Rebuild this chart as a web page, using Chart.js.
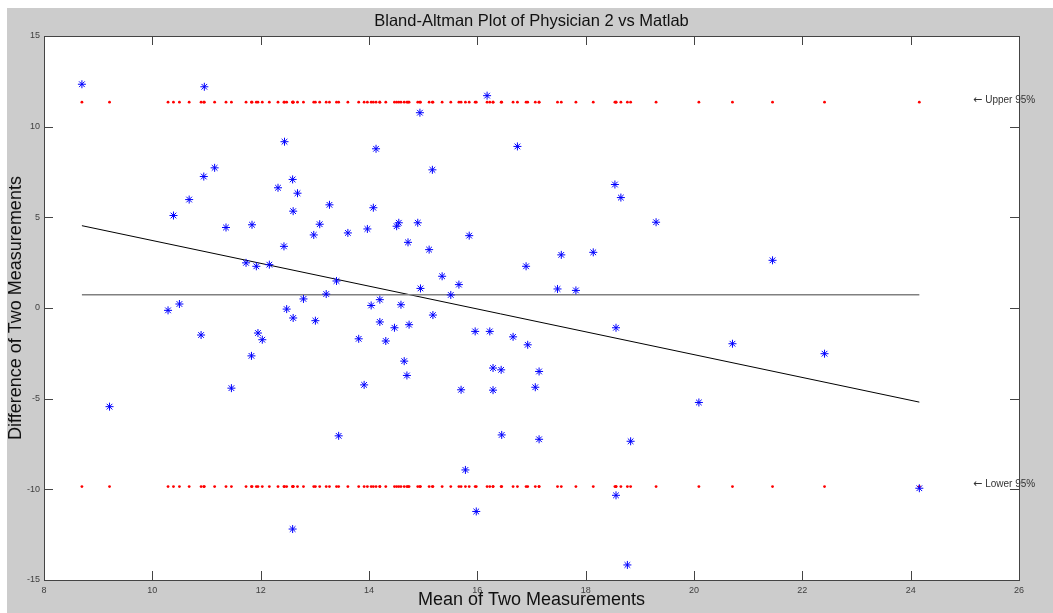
<!DOCTYPE html>
<html lang="en">
<head>
    <meta charset="UTF-8">
    <title>Bland-Altman Plot</title>
    <script src="https://cdn.jsdelivr.net/npm/chart.js"></script>
    <style>
        body { margin: 0; background: #fff; }
        canvas { display: block; }
    </style>
</head>
<body>
    <canvas id="baChart" width="1053" height="613"></canvas>

    <script>
        // Mean of the two measurements (x) and their difference (y)
        const meanVals = [
            8.70, 10.96, 12.44, 11.15, 10.95, 12.59, 12.32, 12.68, 10.68, 13.27,
            12.60, 16.18, 14.94, 14.13, 16.74, 15.17, 18.54, 18.65, 14.08, 10.39,
            11.36, 11.84, 12.43, 12.98, 13.09, 13.61, 11.73, 11.92, 12.16, 13.40,
            13.21, 10.29, 10.50, 12.48, 12.79, 12.60, 13.01, 10.90, 11.95, 12.03,
            13.81, 11.83, 11.46, 9.21, 13.97, 14.51, 14.55, 14.90, 14.72, 15.11,
            15.85, 15.35, 15.66, 14.95, 15.51, 14.20, 14.04, 14.59, 15.18, 16.90,
            17.55, 18.14, 19.30, 17.48, 17.82, 14.20, 14.47, 14.74, 14.31, 15.96,
            16.23, 16.66, 16.93, 18.56, 14.65, 14.70, 16.29, 16.44, 17.14, 13.91,
            15.70, 16.29, 17.07, 20.09, 21.45, 20.71, 22.41, 13.44, 12.59, 16.45,
            17.14, 18.83, 15.78, 15.98, 18.56, 18.77, 24.16
        ];
        const diffVals = [
            12.34, 12.20, 9.17, 7.73, 7.25, 7.09, 6.63, 6.33, 5.98, 5.69,
            5.34, 11.71, 10.77, 8.78, 8.91, 7.62, 6.81, 6.09, 5.53, 5.10,
            4.44, 4.59, 3.40, 4.03, 4.62, 4.14, 2.49, 2.30, 2.39, 1.49,
            0.77, -0.13, 0.22, -0.06, 0.50, -0.55, -0.70, -1.49, -1.38, -1.75,
            -1.70, -2.64, -4.42, -5.44, 4.36, 4.51, 4.70, 4.70, 3.62, 3.22,
            3.99, 1.75, 1.29, 1.08, 0.72, 0.46, 0.14, 0.18, -0.39, 2.30,
            2.93, 3.07, 4.73, 1.05, 0.97, -0.77, -1.09, -0.92, -1.82, -1.29,
            -1.29, -1.59, -2.03, -1.09, -2.93, -3.72, -3.31, -3.41, -3.50, -4.24,
            -4.51, -4.53, -4.37, -5.21, 2.63, -1.97, -2.52, -7.05, -12.19, -7.00,
            -7.24, -7.35, -8.93, -11.22, -10.33, -14.17, -9.94
        ];

        const meanDiff = 0.73;
        const upperLimit = 11.35;
        const lowerLimit = -9.85;

        // end points of the fitted trend line
        const fitX = [8.70, 24.16];
        const fitY = [4.54, -5.19];

        const xTicks = [8, 10, 12, 14, 16, 18, 20, 22, 24, 26];
        const yTicks = [-15, -10, -5, 0, 5, 10, 15];

        const titleText = 'Bland-Altman Plot of Physician 2 vs Matlab';
        const xLabel = 'Mean of Two Measurements';
        const yLabel = 'Difference of Two Measurements';
        const upperText = 'Upper 95%';
        const lowerText = 'Lower 95%';

        const FONT = '"Liberation Sans", Arial, sans-serif';
        const xMin = Math.min(...meanVals);
        const xMax = Math.max(...meanVals);

        const points = meanVals.map((m, i) => ({ x: m, y: diffVals[i] }));
        const upperDots = meanVals.map(m => ({ x: m, y: upperLimit }));
        const lowerDots = meanVals.map(m => ({ x: m, y: lowerLimit }));

        // arrow + label pointing back at a limit line
        function limitNote(ctx, x, y, text) {
            ctx.font = '11px "DejaVu Sans", sans-serif';
            ctx.fillText('\u2190', x, y);
            const w = ctx.measureText('\u2190').width;
            ctx.font = '10px ' + FONT;
            ctx.fillText(text, x + w + 3, y);
        }

        // gray figure frame + white axes, then box, inward ticks and texts
        const matlabFrame = {
            id: 'matlabFrame',
            beforeDraw(chart) {
                const { ctx, chartArea: a } = chart;
                ctx.save();
                ctx.fillStyle = '#ffffff';
                ctx.fillRect(0, 0, chart.width, chart.height);
                ctx.fillStyle = '#cccccc';
                ctx.fillRect(7, 8, chart.width - 7, chart.height - 8);
                ctx.fillStyle = '#ffffff';
                ctx.fillRect(a.left, a.top, a.right - a.left, a.bottom - a.top);
                ctx.restore();
            },
            afterDraw(chart) {
                const { ctx, chartArea: a, scales } = chart;
                const xs = scales.x, ys = scales.y;
                const tick = 9;
                ctx.save();
                ctx.strokeStyle = '#444444';
                ctx.lineWidth = 1;
                ctx.beginPath();
                xTicks.forEach(v => {
                    const px = Math.round(xs.getPixelForValue(v)) + 0.5;
                    ctx.moveTo(px, a.bottom); ctx.lineTo(px, a.bottom - tick);
                    ctx.moveTo(px, a.top); ctx.lineTo(px, a.top + tick);
                });
                yTicks.forEach(v => {
                    const py = Math.round(ys.getPixelForValue(v)) + 0.5;
                    ctx.moveTo(a.left, py); ctx.lineTo(a.left + tick, py);
                    ctx.moveTo(a.right, py); ctx.lineTo(a.right - tick, py);
                });
                ctx.stroke();
                ctx.strokeRect(a.left + 0.5, a.top + 0.5, a.right - a.left, a.bottom - a.top);

                // limit annotations
                ctx.fillStyle = '#333333';
                ctx.textAlign = 'left';
                ctx.textBaseline = 'middle';
                const tx = xs.getPixelForValue(25.15);
                limitNote(ctx, tx, ys.getPixelForValue(upperLimit) - 2, upperText);
                limitNote(ctx, tx, ys.getPixelForValue(lowerLimit) - 2, lowerText);

                // title and axis labels
                const cx = (a.left + a.right) / 2;
                ctx.fillStyle = '#111111';
                ctx.textAlign = 'center';
                ctx.font = '16.5px ' + FONT;
                ctx.fillText(titleText, cx, 21);
                ctx.font = '18px ' + FONT;
                ctx.fillText(xLabel, cx, 600);
                ctx.translate(16, (a.top + a.bottom) / 2);
                ctx.rotate(-Math.PI / 2);
                ctx.fillText(yLabel, 0, 0);
                ctx.restore();
            }
        };

        new Chart(document.getElementById('baChart'), {
            type: 'scatter',
            data: {
                datasets: [
                    {
                        label: 'Differences',
                        data: points,
                        pointStyle: 'star',
                        radius: 4,
                        borderColor: '#0000ff',
                        backgroundColor: '#0000ff',
                        borderWidth: 1,
                        order: 0
                    },
                    {
                        label: 'Upper 95%',
                        data: upperDots,
                        pointStyle: 'circle',
                        radius: 1.4,
                        borderWidth: 0,
                        backgroundColor: '#ff0000',
                        order: 1
                    },
                    {
                        label: 'Lower 95%',
                        data: lowerDots,
                        pointStyle: 'circle',
                        radius: 1.4,
                        borderWidth: 0,
                        backgroundColor: '#ff0000',
                        order: 1
                    },
                    {
                        label: 'Mean',
                        type: 'line',
                        data: [{ x: xMin, y: meanDiff }, { x: xMax, y: meanDiff }],
                        borderColor: '#808080',
                        borderWidth: 1.5,
                        pointRadius: 0,
                        order: 2
                    },
                    {
                        label: 'Trend',
                        type: 'line',
                        data: fitX.map((x, i) => ({ x: x, y: fitY[i] })),
                        borderColor: '#000000',
                        borderWidth: 1,
                        pointRadius: 0,
                        order: 2
                    }
                ]
            },
            options: {
                responsive: false,
                animation: false,
                devicePixelRatio: 1,
                layout: { padding: { top: 36, right: 34, left: 0, bottom: 0 } },
                plugins: {
                    legend: { display: false },
                    title: { display: false },
                    tooltip: { enabled: false }
                },
                scales: {
                    x: {
                        type: 'linear',
                        min: 8,
                        max: 26,
                        afterBuildTicks: s => { s.ticks = xTicks.map(v => ({ value: v })); },
                        afterFit: s => { s.height = 33; },
                        grid: { display: false, drawTicks: false },
                        border: { display: false },
                        ticks: { color: '#404040', padding: 5, font: { family: FONT, size: 9 } }
                    },
                    y: {
                        type: 'linear',
                        min: -15,
                        max: 15,
                        afterBuildTicks: s => { s.ticks = yTicks.map(v => ({ value: v })); },
                        afterFit: s => { s.width = 44; },
                        grid: { display: false, drawTicks: false },
                        border: { display: false },
                        ticks: { color: '#404040', padding: 4, font: { family: FONT, size: 9 } }
                    }
                }
            },
            plugins: [matlabFrame]
        });
    </script>
</body>
</html>
